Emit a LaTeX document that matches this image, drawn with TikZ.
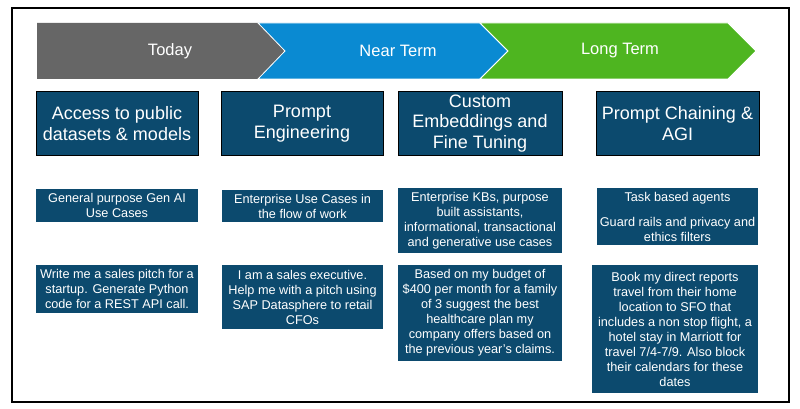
\documentclass[tikz,border=0pt]{standalone}
\usepackage{fontspec}
\setmainfont{Liberation Sans}
\usepackage{xcolor}

\definecolor{phasegray}{HTML}{666666}
\definecolor{phaseblue}{HTML}{0A8AD2}
\definecolor{phasegreen}{HTML}{4EB520}
\definecolor{boxblue}{HTML}{0C4A6E}

\tikzset{
  head/.style={fill=boxblue,draw=black,line width=1pt,text=white,align=center,
    minimum width=162pt,minimum height=63pt,inner sep=0pt,
    font=\fontsize{18}{20.5}\selectfont},
  info/.style={fill=boxblue,text=white,align=center,inner sep=0pt,
    minimum width=162pt,font=\fontsize{12.7}{15}\selectfont},
  phase/.style={text=white,font=\fontsize{16.5}{19}\selectfont}
}

\begin{document}
\begin{tikzpicture}[x=1pt,y=-1pt]
        \useasboundingbox (0,0) rectangle (800,409);
        \draw[line width=1.3pt] (12,8) rectangle (789,402);

        \fill[phasegray] (37,23) -- (258,23) -- (285,51) -- (258,79) -- (37,79) -- cycle;
        \filldraw[fill=phaseblue,draw=white,line width=0.8pt] (258,23) -- (480,23) -- (508,51) -- (480,79) -- (258,79) -- (285,51) -- cycle;
        \filldraw[fill=phasegreen,draw=white,line width=0.8pt] (480,23) -- (728,23) -- (756,51) -- (728,79) -- (480,79) -- (508,51) -- cycle;
        \node (today) at (170,51) [phase] {Today};
        \node (near) at (398,51) [phase] {Near Term};
        \node (long) at (620,51) [phase] {Long Term};

        \node (h1) at (117,123.5) [head] {Access to public\\datasets \& models};
        \node (h2) at (302,123.5) [head] {Prompt\\Engineering};
        \node (h3) at (480,123.5) [head,minimum width=164pt] {Custom\\Embeddings and\\Fine Tuning};
        \node (h4) at (677.5,123.5) [head,minimum width=163pt] {Prompt Chaining \&\\AGI};

        \node (u1) at (117,205.5) [info,minimum height=33pt] {General purpose Gen AI\\Use Cases};
        \node (u2) at (302.5,206) [info,minimum width=161pt,minimum height=32pt] {Enterprise Use Cases in\\the flow of work};
        \node (u3) at (480,220.5) [info,minimum width=164pt,minimum height=65pt] {Enterprise KBs, purpose\\built assistants,\\informational, transactional\\and generative use cases};
        \node (u4) at (677.5,216.5) [info,minimum width=161pt,minimum height=57pt] {Task based agents\\[10pt]Guard rails and privacy and\\ethics filters};

        \node (e1) at (117,289) [info,minimum height=48pt] {Write me a sales pitch for a\\startup. Generate Python\\code for a REST API call.};
        \node (e2) at (302.5,297) [info,minimum width=161pt,minimum height=64pt] {I am a sales executive.\\Help me with a pitch using\\SAP Datasphere to retail\\CFOs};
        \node (e3) at (480,313) [info,minimum width=164pt,minimum height=96pt] {Based on my budget of\\\$400 per month for a family\\of 3 suggest the best\\healthcare plan my\\company offers based on\\the previous year's claims.};
        \node (e4) at (675,329) [info,minimum width=166pt,minimum height=128pt] {Book my direct reports\\travel from their home\\location to SFO that\\includes a non stop flight, a\\hotel stay in Marriott for\\travel 7/4-7/9. Also block\\their calendars for these\\dates};
\end{tikzpicture}
\end{document}
